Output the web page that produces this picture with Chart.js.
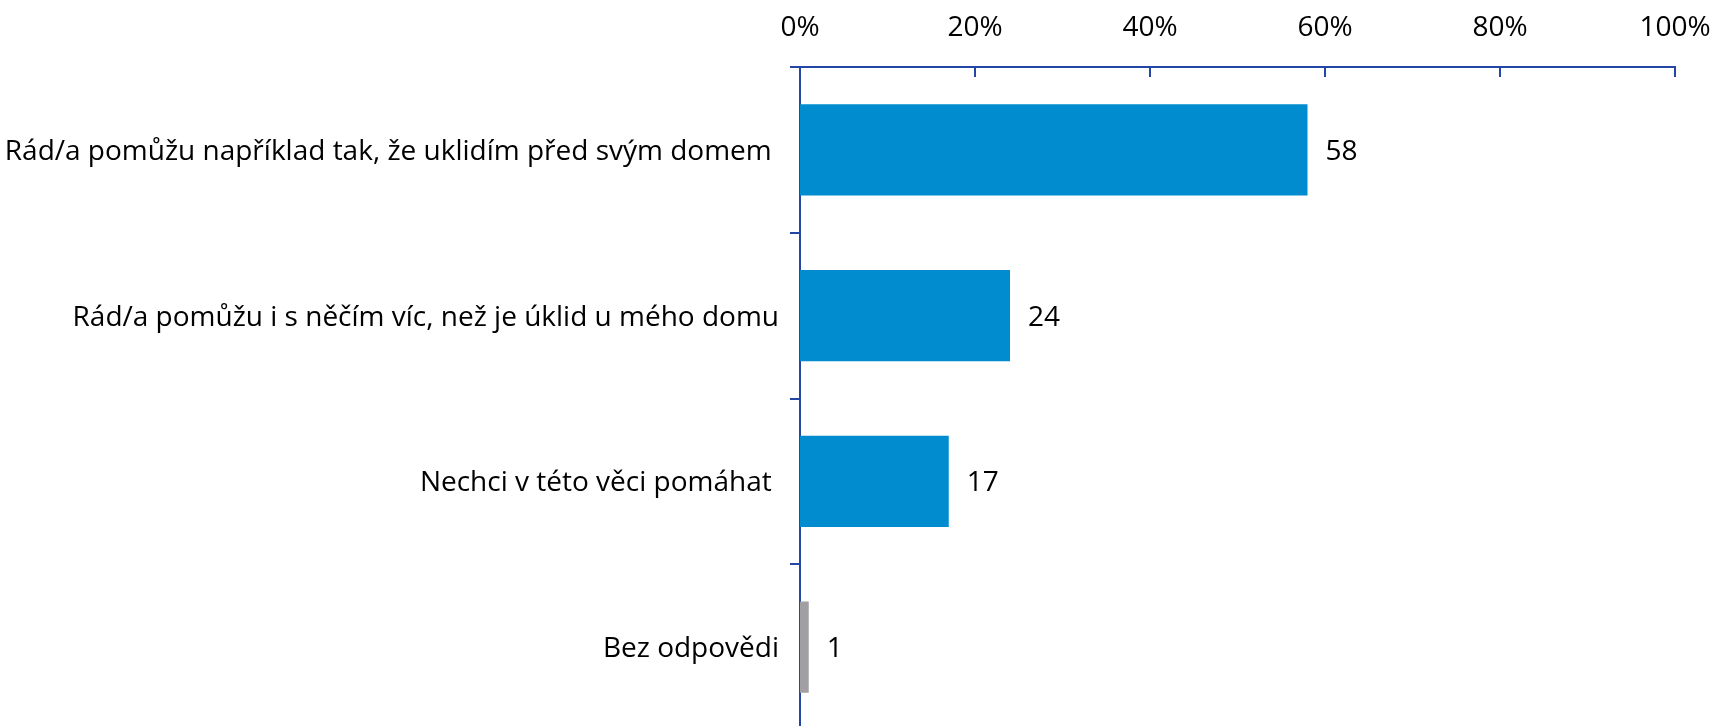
<!DOCTYPE html>
<html>
<head>
<meta charset="utf-8">
<script src="https://cdn.jsdelivr.net/npm/chart.js@4/dist/chart.umd.min.js"></script>
<style>
    html, body { margin: 0; padding: 0; background: #fff; overflow: hidden; }
    #wrap { width: 1714px; height: 730px; }
</style>
</head>
<body>
<div id="wrap"><canvas id="chart-target"></canvas></div>
<script>
const categories = [
    'Rád/a pomůžu například tak, že uklidím před svým domem ',
    'Rád/a pomůžu i s něčím víc, než je úklid u mého domu',
    'Nechci v této věci pomáhat ',
    'Bez odpovědi',
];
const values = [58, 24, 17, 1];
const axisMin = 0;
const axisMax = 100;
const axisStep = 20;

const axisColor = '#2447a6';
const fontFamily = "'Open Sans', sans-serif";
const fontSize = 28;

// ticks of the top axis point down into the plot, values sit after the bars
const extras = {
    id: 'extras',
    afterDraw(chart) {
        const ctx = chart.ctx;
        const x = chart.scales.x;
        const top = chart.chartArea.top;
        ctx.save();
        ctx.strokeStyle = axisColor;
        ctx.lineWidth = 2;
        x.ticks.forEach((t) => {
            const px = Math.round(x.getPixelForValue(t.value));
            ctx.beginPath();
            ctx.moveTo(px, top);
            ctx.lineTo(px, top + 10);
            ctx.stroke();
        });
        ctx.fillStyle = '#000';
        ctx.font = fontSize + 'px ' + fontFamily;
        ctx.textBaseline = 'middle';
        ctx.textAlign = 'left';
        chart.getDatasetMeta(0).data.forEach((bar, i) => {
            ctx.fillText(String(values[i]), bar.x + 18, bar.y + 2);
        });
        ctx.restore();
    },
};

window.onload = () => {
    const target = document.getElementById('chart-target');
    new Chart(target, {
        type: 'bar',
        data: {
            labels: categories,
            datasets: [{
                data: values,
                backgroundColor: values.map((v, i) => i === values.length - 1 ? 'rgb(160, 160, 164)' : 'rgb(0, 140, 207)'),
                barPercentage: 0.55,
                categoryPercentage: 1,
            }],
        },
        options: {
            indexAxis: 'y',
            responsive: true,
            maintainAspectRatio: false,
            animation: false,
            layout: { padding: { top: 0, right: 39, bottom: 0, left: 0 } },
            plugins: {
                legend: { display: false },
                tooltip: { enabled: false },
            },
            scales: {
                x: {
                    position: 'top',
                    min: axisMin,
                    max: axisMax,
                    grid: { display: false },
                    border: { display: true, color: axisColor, width: 2 },
                    ticks: {
                        stepSize: axisStep,
                        padding: 14,
                        color: '#000',
                        font: { family: fontFamily, size: fontSize },
                        callback: (v) => v + '%',
                    },
                    afterFit: (scale) => {
                        scale.height = 67;
                        scale.paddingLeft = 0;
                        scale.paddingRight = 0;
                    },
                },
                y: {
                    grid: {
                        drawOnChartArea: false,
                        drawTicks: true,
                        tickLength: 10,
                        color: axisColor,
                        lineWidth: 2,
                        offset: true,
                    },
                    border: { display: true, color: axisColor, width: 2 },
                    ticks: {
                        padding: 11,
                        labelOffset: 2,
                        color: '#000',
                        font: { family: fontFamily, size: fontSize },
                    },
                    afterFit: (scale) => {
                        scale.width = 800;
                        scale.paddingTop = 0;
                        scale.paddingBottom = 0;
                    },
                },
            },
        },
        plugins: [extras],
    });
}
</script>
</body>
</html>
